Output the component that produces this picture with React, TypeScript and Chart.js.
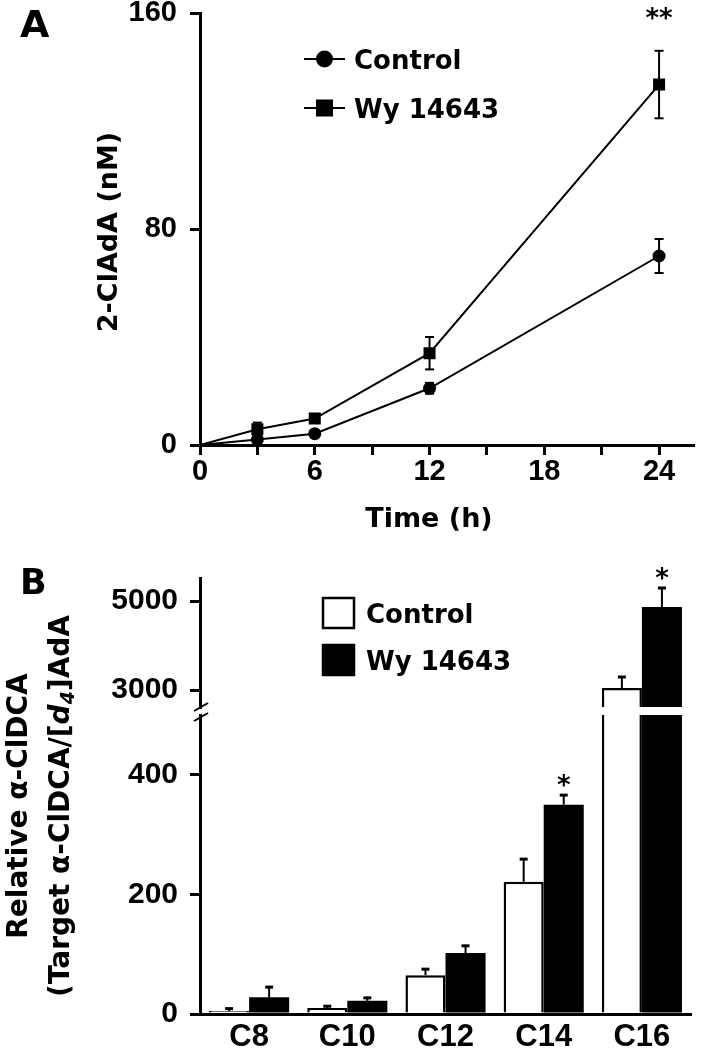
import React, { useEffect, useRef } from 'react';
import { Chart, registerables } from 'chart.js';

Chart.register(...registerables);

// ---------- Panel A data ----------
const timePoints = [0, 3, 6, 12, 24];
const controlA = [0, 2, 4.2, 21, 70];
const controlAErr = [0, 1.2, 1, 2, 6.3];
const wyA = [0, 5.8, 9.8, 34, 133.5];
const wyAErr = [0, 2.5, 1.5, 6, 12.5];
const sigA = ['', '', '', '', '**'];
const timeTickValues = [0, 3, 6, 9, 12, 15, 18, 21, 24];
const timeTickLabels = ['0', '', '6', '', '12', '', '18', '', '24'];
const concTickValues = [0, 80, 160];
const seriesNames = ['Control', 'Wy 14643'];

// ---------- Panel B data ----------
const chains = ['C8', 'C10', 'C12', 'C14', 'C16'];
const controlB = [5, 10, 65, 221, 3045];
const controlBErr = [4, 3, 10, 38, 247];
const wyB = [28, 22, 102, 350, 4865];
const wyBErr = [17, 5, 12, 16, 427];
const sigB = ['', '', '', '*', '*'];
const upperTickValues = [3000, 5000];
const lowerTickValues = [0, 200, 400];

const WORD = '"DejaVu Sans", sans-serif';
const NUM = '"Liberation Sans", Arial, sans-serif';

function text(ctx: any, s: string, x: number, y: number, size: number, align: string = 'left', family: string = WORD) {
  ctx.save();
  ctx.font = `bold ${size}px ${family}`;
  ctx.textAlign = align;
  ctx.textBaseline = 'alphabetic';
  ctx.fillStyle = '#000';
  ctx.fillText(s, x, y);
  ctx.restore();
}

function seg(ctx: any, x1: number, y1: number, x2: number, y2: number, w: number) {
  ctx.save();
  ctx.strokeStyle = '#000';
  ctx.lineWidth = w;
  ctx.beginPath();
  ctx.moveTo(x1, y1);
  ctx.lineTo(x2, y2);
  ctx.stroke();
  ctx.restore();
}

function drawRuns(ctx: any, runs: any[], baselineY: number) {
  let total = 0;
  for (const r of runs) { ctx.font = r.font; total += ctx.measureText(r.text).width; }
  let x = -total / 2;
  ctx.textAlign = 'left';
  ctx.textBaseline = 'alphabetic';
  ctx.fillStyle = '#000';
  for (const r of runs) {
    ctx.font = r.font;
    ctx.fillText(r.text, x, baselineY + (r.dy || 0));
    x += ctx.measureText(r.text).width;
  }
}

const panelAPlugin = {
  id: 'panelA',
  afterDatasetsDraw(chart: any) {
    const { ctx, scales: { y } } = chart;
    const sets: any[] = [[controlA, controlAErr], [wyA, wyAErr]];
    sets.forEach(([vals, errs], di) => {
      chart.getDatasetMeta(di).data.forEach((pt: any, i: number) => {
        if (!errs[i]) return;
        const hi = y.getPixelForValue(vals[i] + errs[i]);
        const lo = y.getPixelForValue(vals[i] - errs[i]);
        seg(ctx, pt.x, hi, pt.x, lo, 2);
        seg(ctx, pt.x - 4.5, hi, pt.x + 4.5, hi, 2);
        seg(ctx, pt.x - 4.5, lo, pt.x + 4.5, lo, 2);
      });
    });
  },
  afterDraw(chart: any) {
    const { ctx, chartArea: ca, scales: { y } } = chart;
    text(ctx, 'A', ca.left - 180, ca.top + 24, 38);
    const rows = [ca.top + 46, ca.top + 95];
    rows.forEach((ry, i) => {
      seg(ctx, ca.left + 104, ry, ca.left + 145, ry, 2);
      ctx.save();
      ctx.fillStyle = '#000';
      if (i === 0) {
        ctx.beginPath();
        ctx.arc(ca.left + 124.5, ry, 8.5, 0, Math.PI * 2);
        ctx.fill();
      } else {
        ctx.fillRect(ca.left + 116, ry - 8.5, 17, 17);
      }
      ctx.restore();
      text(ctx, seriesNames[i], ca.left + 154, ry + 9.5, 26);
    });
    const wyMeta = chart.getDatasetMeta(1);
    sigA.forEach((s, i) => {
      if (!s) return;
      text(ctx, s, wyMeta.data[i].x, y.getPixelForValue(y.max) + 14, 26, 'center');
    });
    ctx.save();
    ctx.translate(ca.left - 83, (ca.top + ca.bottom) / 2 + 3);
    ctx.rotate(-Math.PI / 2);
    text(ctx, '2-ClAdA (nM)', 0, 0, 27, 'center');
    ctx.restore();
    text(ctx, 'Time (h)', ca.left + 229, ca.bottom + 82, 27, 'center');
  },
};

function drawBarExtras(chart: any) {
  const { ctx, chartArea: ca, scales: { y } } = chart;
  const sets: any[] = [[controlB, controlBErr], [wyB, wyBErr]];
  ctx.save();
  ctx.beginPath();
  ctx.rect(ca.left, ca.top - 2, ca.right - ca.left, ca.bottom - ca.top + 2);
  ctx.clip();
  sets.forEach(([vals, errs], di) => {
    chart.getDatasetMeta(di).data.forEach((bar: any, i: number) => {
      const yv = y.getPixelForValue(vals[i]);
      const ye = y.getPixelForValue(vals[i] + errs[i]);
      seg(ctx, bar.x, yv, bar.x, ye, 2);
      seg(ctx, bar.x - 4, ye, bar.x + 4, ye, 3);
    });
  });
  ctx.restore();
  const wyMeta = chart.getDatasetMeta(1);
  sigB.forEach((s, i) => {
    if (!s) return;
    const top = wyB[i] + wyBErr[i];
    if (top < y.min || top > y.max) return;
    const py = y.getPixelForValue(top);
    text(ctx, s, wyMeta.data[i].x, py - 1, 26, 'center');
  });
}

const upperPlugin = {
  id: 'panelBUpper',
  afterDatasetsDraw(chart: any) { drawBarExtras(chart); },
  afterDraw(chart: any) {
    const { ctx, chartArea: ca } = chart;
    text(ctx, 'B', ca.left - 180, ca.top + 16, 35);
    const rows = [ca.top + 20, ca.top + 67];
    rows.forEach((ry, i) => {
      ctx.save();
      ctx.fillStyle = i === 0 ? '#fff' : '#000';
      ctx.fillRect(ca.left + 123, ry, 31, 30);
      ctx.strokeStyle = '#000';
      ctx.lineWidth = 2.5;
      ctx.strokeRect(ca.left + 123, ry, 31, 30);
      ctx.restore();
      text(ctx, seriesNames[i], ca.left + 166, ry + 15 + 9.5, 26);
    });
  },
};

const lowerPlugin = {
  id: 'panelBLower',
  afterDatasetsDraw(chart: any) { drawBarExtras(chart); },
  afterDraw(chart: any) {
    const { ctx, chartArea: ca } = chart;
    // axis break marks
    seg(ctx, ca.left - 6, ca.top - 4, ca.left + 8, ca.top - 12, 2);
    seg(ctx, ca.left - 6, ca.top + 6, ca.left + 8, ca.top - 2, 2);
    // y-axis title (two lines, rotated)
    ctx.save();
    ctx.translate(ca.left, ca.top + 91);
    ctx.rotate(-Math.PI / 2);
    const f = `bold 28px ${WORD}`;
    drawRuns(ctx, [{ text: 'Relative α-ClDCA', font: f }], -173);
    drawRuns(ctx, [
      { text: '(Target α-ClDCA/[', font: f },
      { text: 'd', font: `italic bold 28px ${WORD}` },
      { text: '4', font: `italic bold 19px ${WORD}`, dy: 5 },
      { text: ']AdA', font: f },
    ], -131);
    ctx.restore();
  },
};

const axisGrid = { drawOnChartArea: false, drawTicks: true, tickLength: 10, color: '#000', lineWidth: 3 };
const axisBorder = { color: '#000', width: 3, z: 1 };
const plainNumber = (v: any) => String(v);

function makeA(): any {
  return {
    type: 'line',
    data: {
      datasets: [
        {
          label: seriesNames[0],
          data: timePoints.map((t, i) => ({ x: t, y: controlA[i] })),
          borderColor: '#000', borderWidth: 2, tension: 0, fill: false,
          pointStyle: 'circle',
          pointRadius: (c: any) => (c.dataIndex === 0 ? 0 : 6.5),
          pointBackgroundColor: '#000', pointBorderColor: '#000', pointBorderWidth: 0,
        },
        {
          label: seriesNames[1],
          data: timePoints.map((t, i) => ({ x: t, y: wyA[i] })),
          borderColor: '#000', borderWidth: 2, tension: 0, fill: false,
          pointStyle: 'rect',
          pointRadius: (c: any) => (c.dataIndex === 0 ? 0 : 8.5),
          pointBackgroundColor: '#000', pointBorderColor: '#000', pointBorderWidth: 0,
        },
      ],
    },
    options: {
      responsive: false, animation: false, devicePixelRatio: 1,
      layout: { padding: { left: 0, top: 33, right: 4, bottom: 0 } },
      plugins: { legend: { display: false }, tooltip: { enabled: false } },
      scales: {
        x: {
          type: 'linear', min: 0, max: 25.8,
          afterBuildTicks: (s: any) => { s.ticks = timeTickValues.map((v) => ({ value: v })); },
          afterFit: (s: any) => { s.height = 95; },
          grid: axisGrid, border: axisBorder,
          ticks: {
            autoSkip: false, maxRotation: 0, padding: 0, color: '#000',
            font: { family: NUM, size: 29, weight: 'bold' },
            callback: (v: any) => { const k = timeTickValues.indexOf(v); return k >= 0 ? timeTickLabels[k] : ''; },
          },
        },
        y: {
          type: 'linear', min: 0, max: 160,
          afterBuildTicks: (s: any) => { s.ticks = concTickValues.map((v) => ({ value: v })); },
          afterFit: (s: any) => { s.width = 200; },
          grid: axisGrid, border: axisBorder,
          ticks: { autoSkip: false, padding: 13, color: '#000', font: { family: NUM, size: 29, weight: 'bold' }, callback: plainNumber },
        },
      },
    },
    plugins: [panelAPlugin],
  };
}

function barDatasets(): any[] {
  return [
    { label: seriesNames[0], data: controlB, backgroundColor: '#fff', borderColor: '#000', borderWidth: 2.5, clip: 0, categoryPercentage: 0.816, barPercentage: 1 },
    { label: seriesNames[1], data: wyB, backgroundColor: '#000', borderColor: '#000', borderWidth: 0, clip: 0, categoryPercentage: 0.816, barPercentage: 1 },
  ];
}

function makeBUpper(): any {
  return {
    type: 'bar',
    data: { labels: chains, datasets: barDatasets() },
    options: {
      responsive: false, animation: false, devicePixelRatio: 1,
      layout: { padding: { left: 0, top: 48, right: 11, bottom: 53 } },
      plugins: { legend: { display: false }, tooltip: { enabled: false } },
      scales: {
        x: { type: 'category', display: false, offset: true },
        y: {
          type: 'linear', min: 2618, max: 5517,
          afterBuildTicks: (s: any) => { s.ticks = upperTickValues.map((v) => ({ value: v })); },
          afterFit: (s: any) => { s.width = 200; },
          grid: axisGrid, border: axisBorder,
          ticks: { autoSkip: false, padding: 12, color: '#000', font: { family: NUM, size: 30, weight: 'bold' }, callback: plainNumber },
        },
      },
    },
    plugins: [upperPlugin],
  };
}

function makeBLower(): any {
  return {
    type: 'bar',
    data: { labels: chains, datasets: barDatasets() },
    options: {
      responsive: false, animation: false, devicePixelRatio: 1,
      layout: { padding: { left: 0, top: 155, right: 11, bottom: 0 } },
      plugins: { legend: { display: false }, tooltip: { enabled: false } },
      scales: {
        x: {
          type: 'category', offset: true,
          afterFit: (s: any) => { s.height = 42; },
          grid: { display: false, drawTicks: false },
          border: axisBorder,
          ticks: { autoSkip: false, maxRotation: 0, padding: 5, color: '#000', font: { family: NUM, size: 31, weight: 'bold' } },
        },
        y: {
          type: 'linear', min: 0, max: 500,
          afterBuildTicks: (s: any) => { s.ticks = lowerTickValues.map((v) => ({ value: v })); },
          afterFit: (s: any) => { s.width = 200; },
          grid: axisGrid, border: axisBorder,
          ticks: { autoSkip: false, padding: 12, color: '#000', font: { family: NUM, size: 30, weight: 'bold' }, callback: plainNumber },
        },
      },
    },
    plugins: [lowerPlugin],
  };
}

function ChartCanvas({ make, left, top, width, height }: any) {
  const ref = useRef<HTMLCanvasElement | null>(null);
  useEffect(() => {
    const chart = new Chart(ref.current as HTMLCanvasElement, make());
    return () => chart.destroy();
  }, []);
  return (
    <canvas
      ref={ref}
      width={width}
      height={height}
      style={{ position: 'absolute', left, top, width, height }}
    />
  );
}

export default function App() {
  return (
    <div style={{ position: 'absolute', left: 0, top: 0, width: 702, height: 1056, background: '#fff', overflow: 'hidden' }}>
      <ChartCanvas make={makeA} left={0} top={-20} width={702} height={560} />
      <ChartCanvas make={makeBLower} left={0} top={560} width={702} height={496} />
      <ChartCanvas make={makeBUpper} left={0} top={530} width={702} height={230} />
    </div>
  );
}
